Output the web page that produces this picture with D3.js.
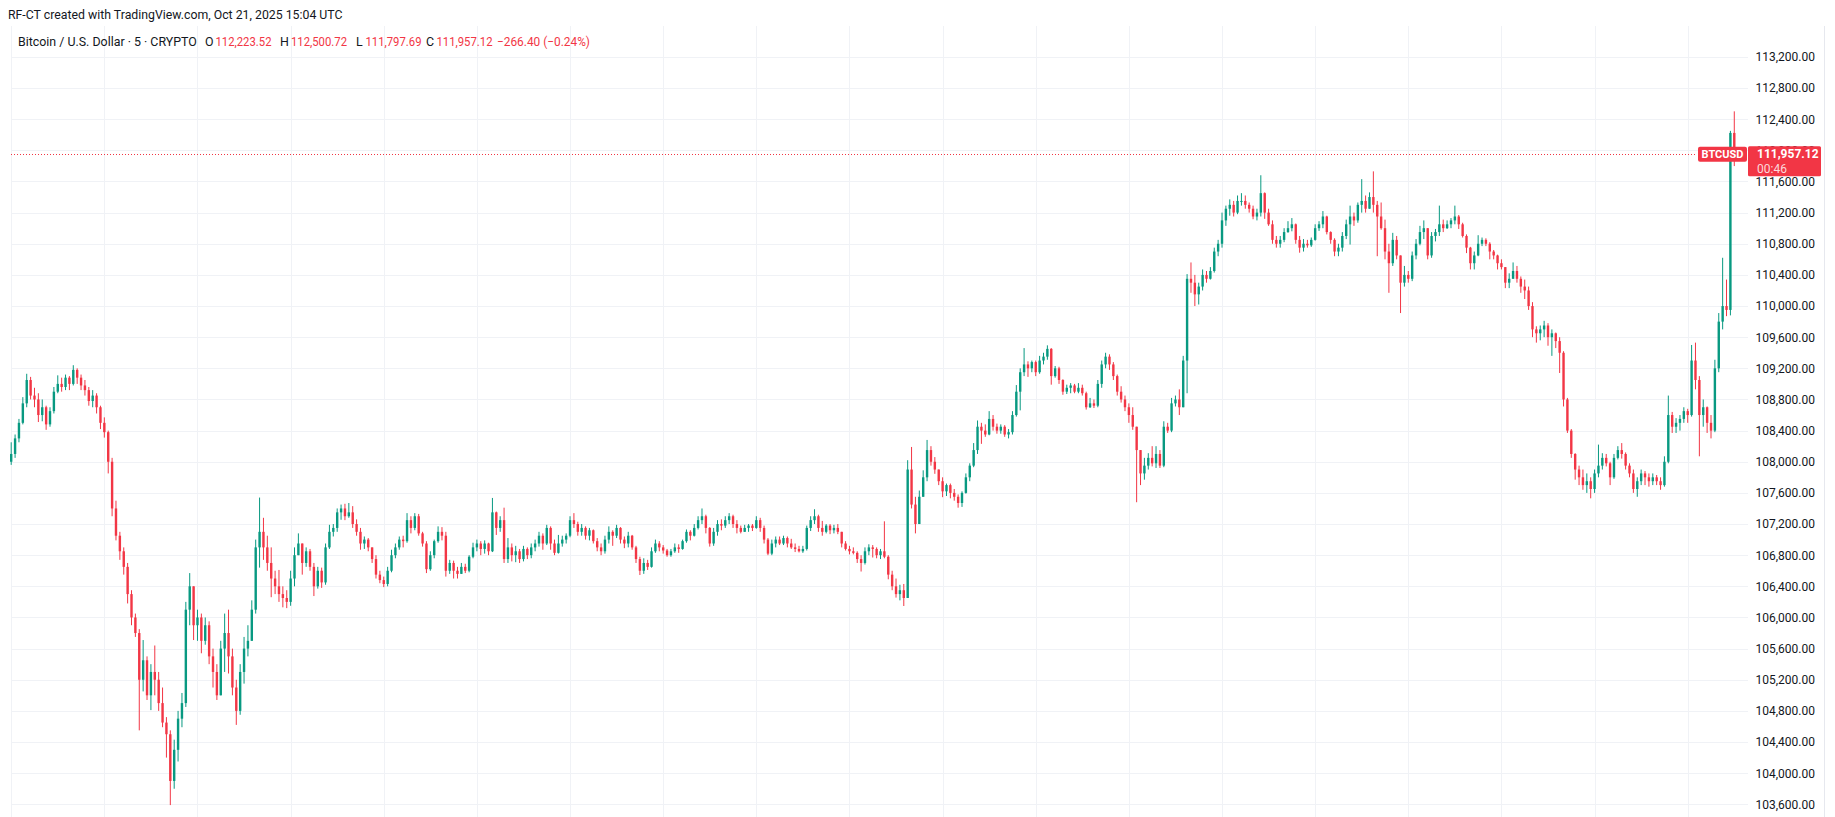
<!DOCTYPE html>
<html><head><meta charset="utf-8">
<script src="https://cdn.jsdelivr.net/npm/d3@7"></script>
<style>
html,body{margin:0;padding:0;background:#fff;}
svg{display:block;font-family:Roboto,"Liberation Sans",sans-serif;}
</style></head><body>
<svg id="chart" width="1835" height="817"></svg>
<script>
// ---------------- DATA ----------------
const startTime = "2025-10-17T00:00:00Z";   // first 15-minute candle
const endTime = "2025-10-21T15:53:00Z";     // right edge of the time scale
const candleMinutes = 15;
const firstOpen = 108000;

const closes = [
108100,108300,108500,108750,109050,108850,108800,108600,108700,108480,
108650,108900,109000,108960,109080,109000,109180,109080,108980,108920,
108780,108850,108700,108500,108380,108000,107400,107050,106850,106650,
106300,106000,105800,105200,105450,105000,105300,105200,104900,104650,
104500,103900,104300,104700,104900,106100,106400,105900,106000,105700,
105900,105500,105300,105000,105600,105800,105500,105100,104800,105300,
105600,105700,106100,106900,107100,106900,106700,106500,106400,106300,
106250,106200,106500,106800,106950,106700,106850,106650,106400,106600,
106450,106900,107100,107150,107350,107400,107300,107350,107200,107100,
106950,107000,106900,106750,106550,106480,106430,106600,106800,106900,
107000,106980,107250,107150,107300,107080,106950,106620,106800,106980,
107100,107050,106600,106700,106600,106560,106650,106600,106780,106900,
106950,106880,106950,106850,107350,107150,107250,106750,106900,106800,
106850,106750,106880,106800,106900,106950,107050,106950,107150,106950,
106830,106950,107000,107050,107250,107200,107100,107150,107050,107120,
106980,106900,106850,107000,107100,107050,107150,107000,106950,107050,
106900,106750,106600,106700,106650,106850,106950,106900,106860,106800,
106850,106900,106880,106980,107100,107050,107150,107250,107300,107150,
106950,107100,107200,107180,107250,107300,107200,107150,107100,107150,
107180,107150,107250,107150,107000,106820,106950,107000,106950,107020,
106950,106900,106880,106850,106880,107150,107250,107300,107150,107100,
107180,107120,107150,107100,106950,106880,106850,106830,106750,106700,
106850,106900,106880,106800,106850,106780,106550,106400,106300,106350,
106250,107900,107450,107200,107550,107800,108150,108000,107900,107750,
107620,107700,107600,107550,107470,107600,107800,107950,108150,108450,
108400,108350,108550,108450,108400,108450,108350,108380,108600,108900,
109150,109250,109200,109280,109150,109300,109350,109450,109100,109200,
109050,108900,108950,108980,108900,108950,108880,108700,108750,108720,
109000,109250,109350,109250,109100,108900,108800,108700,108600,108450,
108150,107850,107950,108050,107980,108100,107950,108450,108400,108750,
108800,108700,109300,110350,110300,110150,110250,110400,110350,110450,
110700,110800,111100,111250,111300,111200,111350,111350,111300,111250,
111150,111200,111450,111200,111050,110850,110800,110850,110950,111000,
111050,110850,110750,110800,110780,110850,111000,111050,111150,110950,
110850,110700,110750,110900,111050,111150,111100,111300,111350,111250,
111400,111300,111150,111000,110700,110550,110850,110650,110300,110400,
110350,110650,110800,110950,111000,110650,110900,110950,111050,111000,
111050,111100,111150,111050,110900,110750,110550,110650,110800,110850,
110800,110700,110650,110550,110500,110300,110350,110450,110350,110250,
110200,110000,109700,109650,109700,109750,109600,109650,109550,109400,
108800,108400,108100,107900,107800,107700,107750,107650,107850,107950,
108050,107980,107800,108050,108150,108100,107950,107850,107650,107750,
107850,107800,107750,107800,107750,107700,108000,108600,108450,108500,
108550,108650,108600,109300,109050,108600,108700,108500,108400,109200,
109800,110000,109950,112223.52,111957.12
];

const highs = [
108250,108350,108550,108830,109130,109090,108950,108880,108800,108720,
108700,108960,109110,109080,109120,109100,109240,109200,109120,109050,
108960,108920,108880,108720,108570,108400,108050,107500,107100,106900,
106700,106350,106050,105850,105710,105500,105400,105640,105300,105100,
104720,104550,104430,104800,105030,106200,106570,106310,106100,106050,
106000,105950,105600,105400,105700,106050,106100,105600,105200,105400,
105750,105900,106220,107000,107540,107280,107050,106900,106600,106610,
106400,106350,106600,106900,107080,106910,106900,106880,106700,106650,
106640,106950,107190,107200,107400,107450,107460,107470,107430,107260,
107150,107040,107020,106900,106800,106600,106525,106650,106870,106950,
107040,107050,107340,107300,107340,107330,107100,106980,106850,107000,
107170,107160,107100,106740,106730,106650,106700,106690,106800,106960,
107000,106980,106990,106960,107535,107360,107300,107410,107020,106950,
106920,106880,106920,106900,106950,107000,107100,107080,107190,107170,
107000,107060,107050,107080,107300,107340,107230,107200,107170,107150,
107130,107020,106950,107050,107170,107120,107190,107160,107040,107100,
107060,106920,106780,106760,106740,106900,107000,106980,106930,106880,
106880,106950,106940,107000,107130,107120,107200,107300,107400,107320,
107160,107150,107250,107260,107300,107340,107320,107250,107180,107190,
107200,107200,107300,107280,107180,107020,107000,107040,107040,107050,
107040,107010,106950,106920,106920,107180,107300,107390,107320,107240,
107200,107200,107190,107200,107100,106980,106920,106900,106850,106800,
106900,106940,106930,106900,106880,107235,106800,106600,106500,106420,
106430,108020,108190,107550,107630,107890,108280,108200,108060,107890,
107800,107720,107720,107650,107580,107620,107850,107980,108240,108530,
108500,108480,108650,108600,108490,108480,108470,108420,108650,108985,
109200,109460,109290,109300,109300,109360,109400,109495,109460,109230,
109220,109060,108990,109010,109000,109010,108990,108900,108820,108800,
109050,109300,109400,109380,109280,109120,108970,108850,108750,108700,
108450,108150,108050,108110,108200,108200,108150,108520,108500,108820,
108850,108930,109360,110410,110560,110400,110300,110470,110450,110500,
110750,110850,111200,111290,111370,111350,111420,111450,111420,111330,
111290,111250,111680,111460,111250,111100,110900,110900,111000,111090,
111130,111060,110900,110860,110850,110880,111050,111090,111220,111160,
110960,110870,110800,110950,111110,111290,111200,111330,111630,111420,
111460,111730,111350,111330,111110,110800,110940,110900,110600,110515,
110450,110700,110860,111030,111100,111000,110950,110990,111290,111110,
111100,111130,111290,111170,111070,110920,110760,110700,110910,110880,
110870,110820,110720,110660,110600,110500,110420,110560,110515,110380,
110340,110250,110050,109740,109750,109810,109780,109700,109660,109600,
109420,108820,108420,108110,107950,107900,107850,107800,107900,108220,
108110,108100,108000,108100,108200,108240,108120,107980,107900,107800,
107900,107880,107850,107850,107830,107800,108070,108850,108640,108560,
108600,108700,108680,109500,109530,109100,108800,108710,108600,109310,
109910,110620,110340,112250,112500.72
];

const lows = [
107960,108050,108250,108480,108700,108800,108700,108510,108520,108410,
108450,108620,108880,108900,108920,108920,108980,109000,108920,108850,
108720,108700,108620,108420,108310,107850,107300,106990,106740,106550,
106180,105900,105750,104550,105050,104940,104810,105000,104800,104590,
104200,103590,103800,104150,104590,104850,105900,105710,105700,105540,
105650,105400,105100,104940,105000,105300,105280,105000,104620,104750,
105150,105500,105710,106050,106640,106740,106600,106260,106300,106200,
106130,106120,106150,106400,106800,106550,106650,106600,106275,106370,
106380,106420,106880,107040,107100,107255,107250,107280,107150,107050,
106870,106880,106850,106700,106500,106440,106390,106400,106580,106760,
106870,106900,106960,107080,107120,107050,106910,106570,106600,106760,
106960,106990,106525,106560,106500,106500,106560,106570,106580,106760,
106850,106800,106820,106800,106840,107060,107100,106700,106700,106720,
106710,106700,106720,106750,106760,106850,106910,106870,106930,106870,
106800,106820,106910,106950,107030,107150,107050,107050,107000,106990,
106950,106850,106800,106820,106950,106920,107020,106950,106890,106900,
106870,106700,106545,106560,106610,106640,106830,106850,106820,106780,
106780,106830,106830,106870,106960,106990,107040,107130,107200,107080,
106910,106920,107050,107120,107150,107200,107150,107080,107080,107100,
107100,107110,107140,107100,106950,106800,106800,106900,106930,106930,
106900,106880,106840,106835,106830,106860,107110,107200,107100,107050,
107080,107070,107080,107070,106900,106860,106810,106810,106700,106590,
106680,106800,106770,106760,106750,106760,106490,106350,106255,106220,
106147,106250,107400,107080,107350,107550,107750,107950,107845,107700,
107545,107560,107530,107500,107410,107420,107590,107750,107930,108100,
108230,108320,108340,108400,108360,108360,108320,108300,108350,108580,
108660,109100,109090,109150,109100,109130,109250,109310,108990,109080,
109000,108860,108870,108880,108880,108880,108850,108670,108690,108690,
108700,108950,109200,109180,109050,108850,108760,108650,108500,108410,
107480,107700,107770,107900,107940,107920,107920,107930,108370,108380,
108710,108600,108800,108880,110170,110000,110020,110200,110300,110340,
110430,110640,110750,111030,111160,111150,111180,111290,111250,111200,
111115,111100,111150,111120,111030,110800,110750,110750,110820,110940,
110960,110800,110685,110700,110750,110760,110840,110965,111000,110920,
110800,110640,110640,110700,110860,110790,111030,111070,111200,111200,
111290,111200,110640,110980,110600,110170,110515,110600,109910,110250,
110300,110320,110600,110780,110860,110600,110620,110830,110900,110950,
110990,111000,111050,110990,110880,110680,110470,110470,110640,110770,
110770,110600,110600,110470,110470,110230,110230,110360,110300,110170,
110090,109950,109600,109530,109560,109600,109490,109360,109460,109140,
108710,108370,108050,107770,107700,107640,107600,107530,107600,107800,
107900,107940,107700,107780,108030,108040,107900,107800,107600,107550,
107700,107700,107680,107700,107700,107640,107680,107980,108370,108370,
108400,108500,108500,108580,108930,108070,108450,108370,108300,108380,
109150,109700,109870,109880,111797.69
];

const priceTicks = [103600,104000,104400,104800,105200,105600,106000,106400,106800,
  107200,107600,108000,108400,108800,109200,109600,110000,110400,110800,111200,
  111600,112000,112400,112800,113200];

const headerText = "RF-CT created with TradingView.com, Oct 21, 2025 15:04 UTC";
const symbolText = "Bitcoin / U.S. Dollar · 5 · CRYPTO";
const ohlcLetters = ["O", "H", "L", "C"];
const ohlcValues = ["112,223.52", "112,500.72", "111,797.69", "111,957.12"];
const changeText = "\u2212266.40 (\u22120.24%)";
const lastPrice = 111957.12;
const symbolTag = "BTCUSD";
const countdown = "00:46";

// ---------------- CHART ----------------
const UP = "#089981", DOWN = "#F23645", TEXT = "#131722", GRID = "#f0f2f6";
const W = 1835, H = 817;
const plot = {left: 11, right: 1748, top: 26, bottom: 817};
const svg = d3.select("#chart");

const t0 = new Date(startTime);
const candles = closes.map((c, i) => {
  const o = i === 0 ? firstOpen : closes[i - 1];
  return {
    t: d3.utcMinute.offset(t0, i * candleMinutes),
    o, c,
    h: Math.max(highs[i], o, c),
    l: Math.min(lows[i], o, c)
  };
});

const x = d3.scaleUtc().domain([t0, new Date(endTime)]).range([11.2, plot.right]);
const y = d3.scaleLinear().domain([103437, 113597]).range([plot.bottom, plot.top]);

// grid
const grid = svg.append("g").attr("shape-rendering", "crispEdges");
grid.selectAll("line.h").data(priceTicks).join("line")
  .attr("x1", plot.left).attr("x2", plot.right)
  .attr("y1", d => Math.round(y(d)) + 0.5).attr("y2", d => Math.round(y(d)) + 0.5)
  .attr("stroke", GRID).attr("stroke-width", 1);
grid.selectAll("line.v").data(x.ticks(d3.utcHour.every(6))).join("line")
  .attr("x1", d => Math.round(x(d)) + 0.5).attr("x2", d => Math.round(x(d)) + 0.5)
  .attr("y1", plot.top).attr("y2", plot.bottom)
  .attr("stroke", GRID).attr("stroke-width", 1);

// right border of the price scale
svg.append("line").attr("x1", 1824.5).attr("x2", 1824.5).attr("y1", plot.top).attr("y2", H)
  .attr("stroke", "#e6e8ee");

// candles
const bodyW = 2.4;
const cg = svg.append("g");
const cs = cg.selectAll("g").data(candles).join("g");
cs.append("line")
  .attr("x1", d => x(d.t)).attr("x2", d => x(d.t))
  .attr("y1", d => y(d.h)).attr("y2", d => y(d.l))
  .attr("stroke", d => d.c >= d.o ? UP : DOWN).attr("stroke-width", 1);
cs.append("rect")
  .attr("x", d => x(d.t) - bodyW / 2)
  .attr("width", bodyW)
  .attr("y", d => y(Math.max(d.o, d.c)))
  .attr("height", d => Math.max(1, Math.abs(y(d.o) - y(d.c))))
  .attr("fill", d => d.c >= d.o ? UP : DOWN);

// price scale
const axis = d3.axisRight(y).tickValues(priceTicks).tickFormat(d3.format(",.2f"))
  .tickSize(0).tickPadding(0);
const ag = svg.append("g").attr("transform", "translate(1815,0)").call(axis);
ag.select(".domain").remove();
ag.selectAll("text").attr("text-anchor", "end").attr("x", 0)
  .attr("fill", TEXT).style("font-size", "12px").style("font-family", "Roboto, sans-serif");

// last price line
const yl = y(lastPrice);
svg.append("line").attr("x1", plot.left).attr("x2", 1697).attr("y1", Math.round(yl) + 0.5).attr("y2", Math.round(yl) + 0.5)
  .attr("stroke", DOWN).attr("stroke-width", 1).attr("stroke-dasharray", "1,2");

// symbol tag
svg.append("rect").attr("x", 1698).attr("y", yl - 7).attr("width", 49).attr("height", 15)
  .attr("rx", 2).attr("fill", DOWN);
svg.append("text").attr("x", 1722.5).attr("y", yl + 4.5).attr("text-anchor", "middle")
  .attr("fill", "#fff").style("font-size", "11px").style("font-weight", "bold").text(symbolTag);

// price box
svg.append("rect").attr("x", 1748).attr("y", yl - 7.5).attr("width", 73).attr("height", 30)
  .attr("rx", 1.5).attr("fill", DOWN);
svg.append("text").attr("x", 1757).attr("y", yl + 4.5)
  .attr("fill", "#fff").style("font-size", "12px").style("font-weight", "bold").text(d3.format(",.2f")(lastPrice));
svg.append("text").attr("x", 1757).attr("y", yl + 19)
  .attr("fill", "rgba(255,255,255,0.82)").style("font-size", "12px").text(countdown);

// header
svg.append("text").attr("x", 8).attr("y", 18.5).attr("fill", TEXT)
  .style("font-size", "12.3px").text(headerText);

// legend
const lg = svg.append("g").style("font-size", "12.4px");
lg.append("text").attr("x", 18).attr("y", 45.5).attr("fill", TEXT).text(symbolText);
const letterX = [205, 280, 356, 426];
const valueX = [215.5, 291, 365.5, 436.5];
ohlcLetters.forEach((L, i) => {
  lg.append("text").attr("x", letterX[i]).attr("y", 45.5).attr("fill", TEXT).text(L);
  lg.append("text").attr("x", valueX[i]).attr("y", 45.5).attr("fill", DOWN)
    .attr("textLength", 56).attr("lengthAdjust", "spacingAndGlyphs").text(ohlcValues[i]);
});
lg.append("text").attr("x", 497).attr("y", 45.5).attr("fill", DOWN)
  .attr("textLength", 93).attr("lengthAdjust", "spacingAndGlyphs").text(changeText);
</script>
</body></html>
